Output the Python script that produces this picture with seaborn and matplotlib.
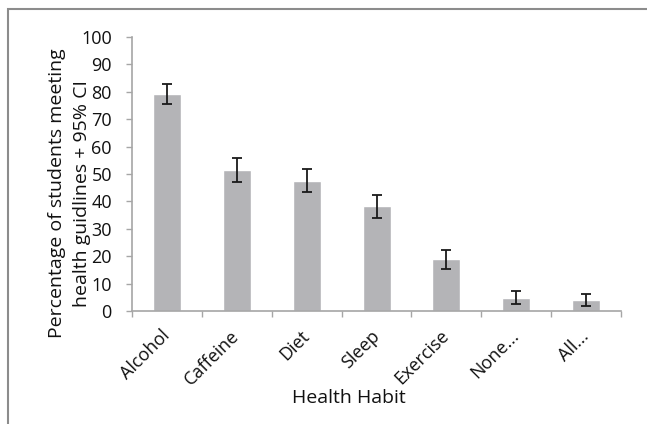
import seaborn as sns
import pandas as pd
import matplotlib.pyplot as plt
from matplotlib.patches import Rectangle

### data

habits = ['Alcohol', 'Caffeine', 'Diet', 'Sleep', 'Exercise', 'None...', 'All...']
percent = [79.2, 51.4, 47.6, 38.2, 18.8, 4.9, 4.1]
ci = [3.6, 4.3, 4.3, 4.1, 3.4, 2.3, 2.1]

df = pd.DataFrame({'habit': habits, 'percent': percent, 'ci': ci})

sns.set_style('white')
plt.rcParams['font.family'] = ['Open Sans', 'DejaVu Sans']

axis_grey = '#a6a6a6'
bar_grey = '#b4b4b7'
text_col = '#111111'

fig = plt.figure(figsize=(6.47, 4.24), dpi=100)
ax = fig.add_axes([0.204, 0.2665, 0.756, 0.6463])

sns.barplot(data=df, x='habit', y='percent', color=bar_grey, width=0.4,
            saturation=1, errorbar=None, ax=ax)
ax.errorbar(df['habit'], df['percent'], yerr=df['ci'], fmt='none',
            ecolor='#1a1a1a', elinewidth=1.3, capsize=3.5, capthick=1.3)

ax.set_xlim(-0.5, len(habits) - 0.5)
ax.set_ylim(0, 100)
ax.set_yticks(range(0, 101, 10))
ax.set_xticks([i - 0.5 for i in range(len(habits) + 1)], minor=True)

for s in ['top', 'right']:
    ax.spines[s].set_visible(False)
for s in ['left', 'bottom']:
    ax.spines[s].set_color(axis_grey)
    ax.spines[s].set_linewidth(1.2)

ax.tick_params(axis='y', which='major', left=True, length=4.5, width=1,
               color=axis_grey, labelsize=13, pad=10, labelcolor=text_col)
ax.tick_params(axis='x', which='major', bottom=False, length=0,
               labelsize=13, pad=16, labelcolor=text_col)
ax.tick_params(axis='x', which='minor', bottom=True, length=4.5, width=1,
               color=axis_grey)
plt.setp(ax.get_xticklabels(), rotation=45, ha='right', va='center',
         rotation_mode='anchor')

ax.set_xlabel('Health Habit', fontsize=14, color=text_col)
ax.xaxis.set_label_coords(0.444, -0.318)
ax.xaxis.label.set_va('center')

ax.set_ylabel('Percentage of students meeting\nhealth guidlines + 95% CI',
              fontsize=14, color=text_col, linespacing=1.5)
ax.yaxis.set_label_coords(-0.127, 0.43)
ax.yaxis.label.set_va('center')

### thin frame around the chart
fig.patches.append(Rectangle((8 / 647, -0.05), 1.1, 0.05 + (424 - 9) / 424,
                             transform=fig.transFigure, fill=False,
                             edgecolor='#8c8c8c', linewidth=1.5))

fig.savefig('out.png', dpi=100)
